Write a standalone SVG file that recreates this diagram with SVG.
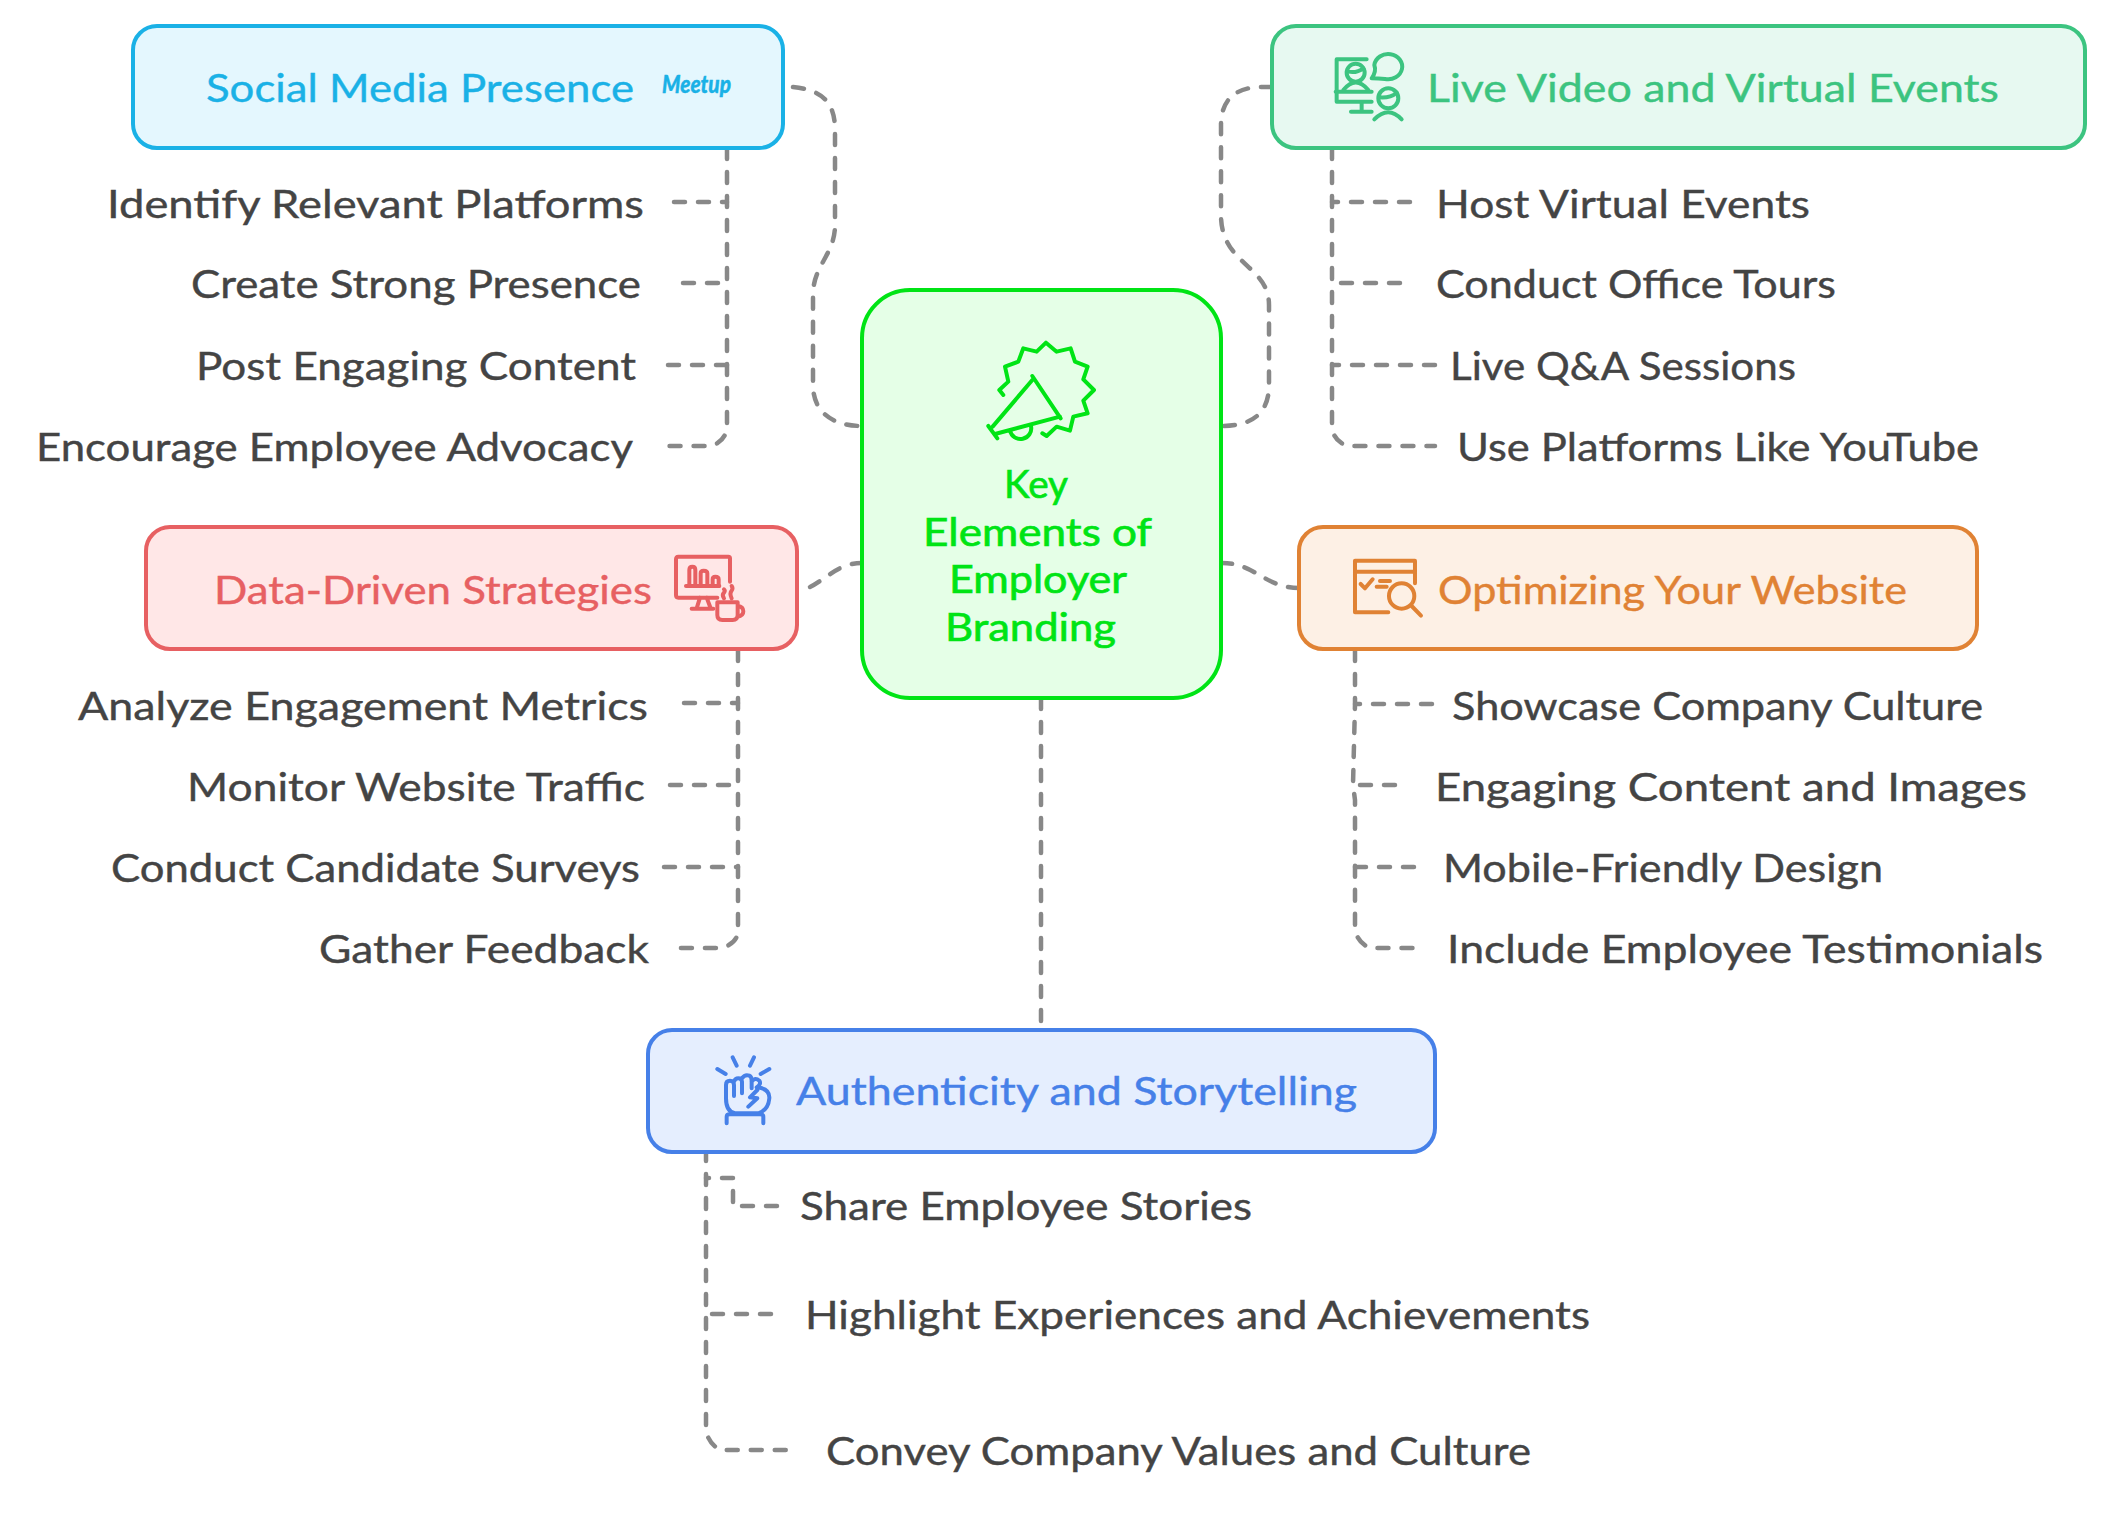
<svg xmlns="http://www.w3.org/2000/svg" width="2112" height="1523" viewBox="0 0 2112 1523">
<style>
text{font-family:"Lato","Noto Sans","Liberation Sans",sans-serif;font-size:39px;stroke:currentColor;stroke-width:.4px}
.l{fill:#444;color:#444}
.c{fill:none;stroke:#888;stroke-width:4.5;stroke-dasharray:11 13;stroke-linecap:round;stroke-linejoin:round}
.i{fill:none;stroke-width:12;stroke-linecap:round;stroke-linejoin:round}
.b{stroke-width:4}
</style>
<rect width="2112" height="1523" fill="#fff"/>
<g id="connectors">
<path class="c" d="M793 87C820 90 835 100 835 130V225C835 255 813 265 813 295V385C813 410 830 426 862 426"/>
<path class="c" d="M1272 87H1262C1235 87 1221 100 1221 125V215C1221 265 1269 265 1269 305V385C1269 415 1250 426 1222 426"/>
<path class="c" d="M810 587C825 580 838 563 862 563"/>
<path class="c" d="M1299 588C1265 588 1255 563 1222 563"/>
<path class="c" d="M1041 698V1023"/>
<path class="c" d="M727 148V425Q727 440 712 446H668"/>
<path class="c" d="M674 202H727"/><path class="c" d="M683 283H727"/><path class="c" d="M668 365H727"/>
<path class="c" d="M1332 148V425Q1332 440 1347 446H1435"/>
<path class="c" d="M1410 202H1332"/><path class="c" d="M1400 283H1332"/><path class="c" d="M1435 365H1332"/>
<path class="c" d="M738 650V930Q738 943 722 948H678"/>
<path class="c" d="M684 703H738"/><path class="c" d="M670 785H738"/><path class="c" d="M664 867H738" stroke-dasharray="3 8"/>
<path class="c" d="M1355 650V704L1353 785L1355 800V930Q1358 943 1370 948H1415"/>
<path class="c" d="M1432 704H1355"/><path class="c" d="M1395 785H1355"/><path class="c" d="M1414 867H1355"/>
<path class="c" d="M706 1150V1430Q708 1443 720 1450H792"/>
<path class="c" d="M777 1206H733V1178H706"/><path class="c" d="M771 1314H706"/>
</g>
<g id="center">
<rect class="b" x="862" y="290" width="359" height="408" rx="48" fill="#e5ffe7" stroke="#00e415"/>
<g transform="translate(840 270) scale(.3333)" class="i" stroke="#00e415">
<path d="M490 375L478 360L505 335L495 290L535 275L550 235L590 245L618 218L650 245L692 235L705 275L743 290L730 328L762 360L730 392L743 430L700 440L690 482L650 470L620 498L607 490"/>
<path d="M577 318L662 445M577 330L458 470M445 468L472 505M465 492L660 440M510 482A32 32 0 0 0 573 468"/>
</g>
<g fill="#00e415" color="#00e415">
<text x="1004" y="498" textLength="64" lengthAdjust="spacingAndGlyphs" style="stroke-width:.7px">Key</text>
<text x="923" y="546" textLength="229" lengthAdjust="spacingAndGlyphs" style="stroke-width:.7px">Elements of</text>
<text x="949" y="593" textLength="178" lengthAdjust="spacingAndGlyphs" style="stroke-width:.7px">Employer</text>
<text x="945" y="641" textLength="171" lengthAdjust="spacingAndGlyphs" style="stroke-width:.7px">Branding</text>
</g>
</g>
<g id="social" color="#1ab1e6">
<rect class="b" x="133" y="26" width="650" height="122" rx="24" fill="#e4f7fe" stroke="#1ab1e6"/>
<text x="206" y="102" textLength="428" lengthAdjust="spacingAndGlyphs" fill="#1ab1e6">Social Media Presence</text>
<text x="662" y="93" textLength="69" lengthAdjust="spacingAndGlyphs" fill="#1ab1e6" style="font-size:25px;font-weight:900;font-style:italic">Meetup</text>
</g>
<g id="social-items" class="l">
<text x="107" y="218" textLength="537" lengthAdjust="spacingAndGlyphs">Identify Relevant Platforms</text>
<text x="191" y="298" textLength="450" lengthAdjust="spacingAndGlyphs">Create Strong Presence</text>
<text x="196" y="380" textLength="440" lengthAdjust="spacingAndGlyphs">Post Engaging Content</text>
<text x="36" y="461" textLength="597" lengthAdjust="spacingAndGlyphs">Encourage Employee Advocacy</text>
</g>
<g id="live" color="#3cc480">
<rect class="b" x="1272" y="26" width="813" height="122" rx="24" fill="#e7f9f1" stroke="#3cc480"/>
<g transform="translate(1220 10) scale(.3333)" class="i" stroke="#3cc480">
<path d="M440 148H350V275H455M347 245H455M425 275V305M393 305H455"/>
<circle cx="407" cy="188" r="27"/>
<path d="M385 185Q410 190 430 175M370 240Q407 195 445 240"/>
<path d="M455 205Q470 185 463 165A42 38 0 1 1 495 207Q475 205 455 205Z"/>
<circle cx="505" cy="265" r="30"/>
<path d="M478 262Q510 265 530 248M463 328Q505 285 545 328"/>
</g>
<text x="1427" y="102" textLength="572" lengthAdjust="spacingAndGlyphs" fill="#3cc480">Live Video and Virtual Events</text>
</g>
<g id="live-items" class="l">
<text x="1436" y="218" textLength="374" lengthAdjust="spacingAndGlyphs">Host Virtual Events</text>
<text x="1436" y="298" textLength="400" lengthAdjust="spacingAndGlyphs">Conduct Office Tours</text>
<text x="1450" y="380" textLength="346" lengthAdjust="spacingAndGlyphs">Live Q&amp;A Sessions</text>
<text x="1457" y="461" textLength="522" lengthAdjust="spacingAndGlyphs">Use Platforms Like YouTube</text>
</g>
<g id="data" color="#e76062">
<rect class="b" x="146" y="527" width="651" height="122" rx="24" fill="#ffe7e7" stroke="#e76062"/>
<g transform="translate(640 520) scale(.3333)" class="i" stroke="#e76062">
<path d="M270 185V115Q270 110 265 110H115Q108 110 108 118V225Q108 233 115 233H232M180 233L170 265M200 233L212 265M155 266H220M138 198H238"/>
<path d="M148 198V150Q148 140 157 140Q166 140 166 150V198M182 198V160Q182 152 191 152Q202 152 202 160V198M218 198V178Q218 170 226 170Q236 170 236 178V198"/>
<path d="M252 235Q245 225 252 218Q257 212 252 208M275 235Q268 220 275 212Q280 205 275 198"/>
<path d="M232 247H293V285Q293 300 278 300H247Q232 300 232 285ZM293 258Q310 260 310 274Q310 288 293 290"/>
</g>
<text x="214" y="604" textLength="438" lengthAdjust="spacingAndGlyphs" fill="#e76062">Data-Driven Strategies</text>
</g>
<g id="data-items" class="l">
<text x="78" y="720" textLength="570" lengthAdjust="spacingAndGlyphs">Analyze Engagement Metrics</text>
<text x="187" y="801" textLength="458" lengthAdjust="spacingAndGlyphs">Monitor Website Traffic</text>
<text x="111" y="882" textLength="529" lengthAdjust="spacingAndGlyphs">Conduct Candidate Surveys</text>
<text x="319" y="963" textLength="330" lengthAdjust="spacingAndGlyphs">Gather Feedback</text>
</g>
<g id="optimizing" color="#e08234">
<rect class="b" x="1299" y="527" width="678" height="122" rx="24" fill="#fdf0e5" stroke="#e08234"/>
<g transform="translate(1220 520) scale(.3333)" class="i" stroke="#e08234">
<path d="M505 277H405V122H585V190M405 155H585M422 192L435 205L458 178M480 183H510M470 200H500M575 258L603 287"/>
<circle cx="545" cy="228" r="38"/>
</g>
<text x="1438" y="604" textLength="469" lengthAdjust="spacingAndGlyphs" fill="#e08234">Optimizing Your Website</text>
</g>
<g id="optimizing-items" class="l">
<text x="1452" y="720" textLength="531" lengthAdjust="spacingAndGlyphs">Showcase Company Culture</text>
<text x="1435" y="801" textLength="592" lengthAdjust="spacingAndGlyphs">Engaging Content and Images</text>
<text x="1443" y="882" textLength="440" lengthAdjust="spacingAndGlyphs">Mobile-Friendly Design</text>
<text x="1447" y="963" textLength="596" lengthAdjust="spacingAndGlyphs">Include Employee Testimonials</text>
</g>
<g id="authenticity" color="#4680e8">
<rect class="b" x="648" y="1030" width="787" height="122" rx="24" fill="#e5eefe" stroke="#4680e8"/>
<g transform="translate(640 1010) scale(.3333)" class="i" stroke="#4680e8">
<path d="M232 177L257 192M278 142L290 167M342 142L330 167M388 177L362 192"/>
<path d="M258 265V225Q258 212 270 212Q282 212 282 225V258M282 215Q285 205 295 205Q305 205 306 215V250M306 205Q315 192 328 197Q335 200 335 212V235M335 215Q345 200 358 212Q365 222 350 232Q390 235 388 265Q385 300 355 310H285Q258 305 258 265"/>
<path d="M352 240L330 262L352 265L325 290M260 340V320Q260 313 270 313H360Q370 313 370 320V340"/>
</g>
<text x="796" y="1105" textLength="561" lengthAdjust="spacingAndGlyphs" fill="#4680e8">Authenticity and Storytelling</text>
</g>
<g id="authenticity-items" class="l">
<text x="800" y="1220" textLength="452" lengthAdjust="spacingAndGlyphs">Share Employee Stories</text>
<text x="805" y="1329" textLength="785" lengthAdjust="spacingAndGlyphs">Highlight Experiences and Achievements</text>
<text x="826" y="1465" textLength="705" lengthAdjust="spacingAndGlyphs">Convey Company Values and Culture</text>
</g>
</svg>
